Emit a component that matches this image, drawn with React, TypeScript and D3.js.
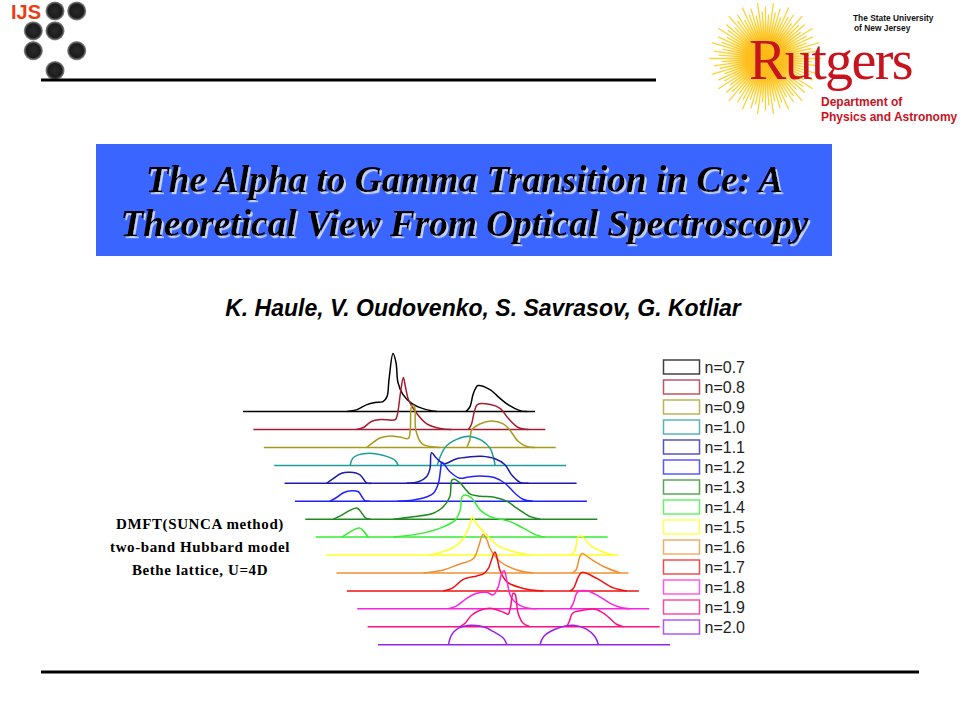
import React from 'react';
import * as d3 from 'd3';

type Pt = [number, number];

// spectra: [omega, A(omega)], arbitrary units
const n07: Pt[] = [[-4.2, 0], [-3.2, 0.2], [-2.2, 0.7], [-1.4, 0.9], [-0.6, 1.0], [-0.2, 1.5], [0.0, 3.2], [0.4, 5.8], [0.7, 4.9], [0.9, 2.9], [1.4, 1.7], [2.3, 0.8], [3.4, 0.3], [4.8, 0], [7.7, 0], [8.1, 0.5], [8.4, 1.7], [8.7, 2.4], [8.9, 2.6], [10.1, 2.2], [10.9, 1.5], [11.9, 0.7], [13.1, 0.1], [13.8, 0]];
const n08: Pt[] = [[-4.3, 0], [-3.6, 0.2], [-2.8, 0.8], [-1.9, 1.0], [-0.4, 1.0], [-0.2, 1.5], [0.1, 3.6], [0.4, 5.2], [0.6, 4.3], [0.9, 3.0], [1.6, 1.8], [2.7, 0.6], [4.1, 0.1], [5.2, 0], [6.9, 0], [7.2, 0.5], [7.5, 1.8], [7.8, 2.5], [9.1, 2.5], [10.1, 2.1], [10.9, 1.1], [11.9, 0.2], [12.9, 0]];
const n09: Pt[] = [[-4.3, 0], [-3.8, 0.4], [-3.0, 0.95], [-2.0, 1.15], [-1.0, 1.05], [-0.15, 0.9], [0.05, 1.75], [0.2, 4.15], [0.45, 4.15], [0.6, 1.75], [1.2, 0.4], [2.0, 0.1], [3.0, 0], [5.7, 0], [6.0, 0.75], [6.2, 1.75], [7.0, 2.35], [8.2, 2.65], [9.35, 2.35], [10.0, 1.75], [10.85, 0.6], [11.7, 0.1], [12.5, 0]];
const n10: Pt[] = [[-7.0, 0], [-6.75, 0.7], [-6.2, 1.05], [-5.35, 1.2], [-4.35, 1.15], [-3.35, 0.9], [-2.5, 0.5], [-2.2, 0], [1.7, 0], [2.5, 1.8], [3.65, 2.6], [5.0, 2.9], [6.15, 2.5], [7.0, 1.7], [7.3, 0.9], [7.5, 0]];
const n11: Pt[] = [[-10.4, 0], [-9.7, 0.5], [-8.9, 1.0], [-8.05, 1.1], [-7.05, 0.85], [-6.4, 0.05], [-5.9, 0], [-2.4, 0], [-1.2, 0.15], [-0.4, 0.65], [-0.05, 1.5], [0.1, 3.05], [0.6, 2.5], [1.3, 1.95], [1.6, 2.0], [2.6, 2.45], [3.95, 2.65], [5.1, 2.7], [6.45, 2.45], [7.45, 1.85], [8.1, 0.85], [8.95, 0.1], [9.8, 0]];
const n12: Pt[] = [[-11.1, 0], [-10.4, 0.4], [-9.75, 0.85], [-8.9, 1.05], [-8.25, 0.95], [-7.9, 0.45], [-7.6, 0.05], [-7.1, 0], [-4.4, 0], [-2.75, 0.13], [-1.4, 0.45], [-0.75, 0.8], [-0.25, 1.8], [-0.02, 3.3], [0.1, 3.9], [0.9, 2.95], [1.9, 2.3], [2.75, 2.43], [3.9, 2.53], [5.4, 2.35], [6.4, 1.8], [7.4, 0.8], [8.2, 0.2], [9.2, 0]];
const n13: Pt[] = [[-11.8, 0], [-10.95, 0.4], [-10.1, 0.9], [-9.4, 1.1], [-8.95, 0.6], [-8.55, 0.1], [-8.1, 0], [-5.8, 0], [-3.8, 0.25], [-1.8, 0.6], [-0.8, 1.25], [-0.15, 2.25], [0.05, 3.9], [0.3, 4.0], [0.9, 3.6], [1.5, 2.9], [1.9, 2.5], [2.9, 2.3], [4.3, 2.2], [5.55, 1.8], [6.55, 1.1], [7.9, 0.25], [8.9, 0]];
const n14: Pt[] = [[-12, 0], [-11.35, 0.4], [-10.65, 0.8], [-10.15, 0.9], [-9.85, 0.65], [-9.35, 0], [-6.85, 0], [-4.15, 0.35], [-2.15, 0.9], [-0.65, 1.7], [-0.15, 2.7], [0.05, 4.05], [0.35, 4.2], [1.0, 3.9], [1.85, 2.7], [2.85, 2.05], [4.85, 1.55], [6.15, 0.9], [7.5, 0.2], [8.3, 0]];
const n15: Pt[] = [[-4.2, 0], [-2.85, 0.35], [-1.5, 1.0], [-0.85, 1.7], [-0.35, 2.7], [0.05, 3.8], [0.3, 3.35], [1.45, 2.0], [2.5, 1.0], [4.1, 0.35], [5.8, 0], [9.8, 0], [10.25, 0.35], [10.6, 1.85], [10.8, 1.9], [11.05, 1.85], [11.8, 1.0], [13.1, 0.3], [14.1, 0]];
const n16: Pt[] = [[-5.9, 0], [-3.9, 0.3], [-2.55, 0.8], [-0.9, 1.45], [-0.4, 2.6], [0.05, 3.85], [0.45, 3.3], [0.75, 2.45], [1.75, 1.15], [3.45, 0.3], [5.1, 0], [8.95, 0], [9.35, 0.3], [9.75, 1.65], [10.0, 1.95], [10.75, 1.45], [12.1, 0.65], [13.8, 0]];
const n17: Pt[] = [[-4.95, 0], [-4.1, 0.25], [-2.95, 1.15], [-1.6, 1.5], [-0.95, 1.7], [-0.45, 2.25], [0.2, 3.9], [0.4, 3.4], [0.7, 2.1], [1.4, 0.9], [3.05, 0.25], [5.05, 0], [7.7, 0], [8.05, 0.25], [8.55, 1.4], [8.9, 1.85], [10.4, 1.25], [12.05, 0.3], [13.4, 0]];
const n18: Pt[] = [[-5.5, 0], [-4.65, 0.3], [-3.65, 1.05], [-2.65, 1.55], [-1.65, 1.65], [-1.0, 1.4], [-0.5, 2.2], [-0.15, 3.55], [0.1, 3.8], [0.35, 2.9], [0.85, 1.05], [2.0, 0.2], [3.35, 0], [6.7, 0], [7.0, 0.55], [7.45, 1.7], [8.35, 1.8], [9.5, 1.3], [10.7, 0.55], [11.85, 0.1], [12.7, 0]];
const n19: Pt[] = [[-5.35, 0], [-4.85, 0.35], [-4.2, 1.15], [-3.35, 1.65], [-2.35, 1.85], [-1.0, 1.45], [-0.55, 1.25], [-0.3, 2.0], [-0.05, 3.35], [0.15, 3.25], [0.45, 1.35], [0.95, 0.35], [1.65, 0], [5.3, 0], [5.55, 0.5], [5.9, 1.35], [6.65, 1.6], [8.15, 1.75], [9.15, 1.25], [10.3, 0.25], [11.0, 0]];
const n20: Pt[] = [[-7.55, 0], [-7.25, 0.95], [-6.55, 1.65], [-5.25, 1.95], [-3.9, 1.75], [-3.05, 1.3], [-2.05, 0.65], [-1.7, 0], [1.6, 0], [1.95, 0.8], [3.1, 1.55], [4.95, 1.95], [6.25, 1.55], [7.1, 0.8], [7.45, 0]];

const spectra = [n07, n08, n09, n10, n11, n12, n13, n14, n15, n16, n17, n18, n19, n20];
const labels = ['n=0.7', 'n=0.8', 'n=0.9', 'n=1.0', 'n=1.1', 'n=1.2', 'n=1.3', 'n=1.4', 'n=1.5', 'n=1.6', 'n=1.7', 'n=1.8', 'n=1.9', 'n=2.0'];
const colors = ['#000000', '#a51c30', '#a89a1e', '#1f9c9c', '#1c1ca8', '#2222ff', '#1f8a1f', '#33ee33', '#ffff22', '#f09030', '#ee1111', '#ff22e0', '#ff1080', '#9922ee'];

const titleLines = ['The Alpha to Gamma Transition in Ce: A', 'Theoretical View From Optical Spectroscopy'];
const methodLines = ['DMFT(SUNCA method)', 'two-band Hubbard model', 'Bethe lattice, U=4D'];
const dotCols = [1, 2, 0, 1, 0, 2, 1];
const dotRows = [0, 0, 1, 1, 2, 2, 3];
const rayLengths = [56, 47, 52, 44];

const sans = '"Liberation Sans", Arial, sans-serif';
const serif = '"Liberation Serif", "Times New Roman", serif';

// break a spectrum where it sits on zero, so the spline does not dip under the baseline
function lobes(points: Pt[]): Pt[][] {
  const out: Pt[][] = [[points[0]]];
  points.slice(1).forEach((p, i) => {
    if (p[1] === 0 && points[i][1] === 0) out.push([p]);
    else out[out.length - 1].push(p);
  });
  return out.filter(s => s.length > 1);
}

const App: React.FC = () => {
  const ids = d3.range(spectra.length);
  const x = d3.scaleLinear().domain([-14.6, 14.6]).range([-146, 146]);
  const y = d3.scaleLinear().domain([0, 6]).range([0, -60]);
  const shiftX = d3.scaleLinear().domain([0, 13]).range([389, 524]);
  const shiftY = d3.scaleLinear().domain([0, 13]).range([411.6, 644.7]);
  const legendY = d3.scalePoint<string>().domain(labels).range([367, 627]);
  const line = d3.line<Pt>().x(d => x(d[0])).y(d => y(d[1])).curve(d3.curveCatmullRom.alpha(0.5));

  const dotX = d3.scaleLinear().domain([0, 2]).range([33.3, 76.7]);
  const dotY = d3.scaleLinear().domain([0, 3]).range([11, 70.5]);
  const rayAngles = d3.range(0, 2 * Math.PI, Math.PI / 44);

  return (
    <svg width={960} height={720} style={{ position: 'absolute', left: 0, top: 0, background: '#fff' }}>
      <defs>
        <radialGradient id="dot">
          <stop offset="0%" stopColor="#2a2a2a" />
          <stop offset="72%" stopColor="#1c1c1c" />
          <stop offset="100%" stopColor="#999999" />
        </radialGradient>
        <radialGradient id="sun">
          <stop offset="0%" stopColor="#fdb913" />
          <stop offset="50%" stopColor="#fdbf20" />
          <stop offset="100%" stopColor="#fdd235" stopOpacity={0} />
        </radialGradient>
        <filter id="titleShadow" x="-5%" y="-20%" width="110%" height="140%">
          <feDropShadow dx={2} dy={2.2} stdDeviation={0.5} floodColor="#c4d0f6" />
        </filter>
      </defs>

      {/* header left */}
      <text x={11} y={18.5} fontFamily={sans} fontWeight="bold" fontSize={20} fill="#f03a10">IJS</text>
      {dotCols.map((c, i) => (
        <circle key={i} cx={dotX(c)} cy={dotY(dotRows[i])} r={9.6} fill="url(#dot)" />
      ))}
      <line x1={41} x2={656} y1={80} y2={80} stroke="#000" strokeWidth={3} />
      <line x1={41} x2={919} y1={672} y2={672} stroke="#000" strokeWidth={3} />

      {/* Rutgers mark */}
      <g transform="translate(765.5,58.5)">
        {rayAngles.map((a, i) => {
          const r = rayLengths[i % rayLengths.length];
          return <line key={i} x1={0} y1={0} x2={r * Math.cos(a)} y2={r * Math.sin(a)} stroke="#fdd235" strokeWidth={1.3} />;
        })}
        <circle r={40} fill="url(#sun)" />
      </g>
      <text x={749} y={79} fontFamily={serif} fontSize={56} letterSpacing={-1.6} fill="#c8141e">Rutgers</text>
      <text x={853} y={21} fontFamily={sans} fontWeight="bold" fontSize={8.4} fill="#111">The State University</text>
      <text x={854} y={31} fontFamily={sans} fontWeight="bold" fontSize={8.4} fill="#111">of New Jersey</text>
      <text x={821} y={106} fontFamily={sans} fontWeight="bold" fontSize={12} fill="#c8141e">Department of</text>
      <text x={821} y={121} fontFamily={sans} fontWeight="bold" fontSize={12} fill="#c8141e">Physics and Astronomy</text>

      {/* title */}
      <rect x={96} y={144} width={736} height={112} fill="#3a66ff" />
      {titleLines.map((t, i) => (
        <text key={t} x={464.5} y={191.5 + i * 44} fontFamily={serif} fontWeight="bold" fontStyle="italic" fontSize={37.3} textAnchor="middle" fill="#000" filter="url(#titleShadow)">{t}</text>
      ))}
      <text x={483} y={316} textAnchor="middle" fontFamily={sans} fontWeight="bold" fontStyle="italic" fontSize={23} fill="#000">
        K. Haule, V. Oudovenko, S. Savrasov, G. Kotliar
      </text>

      {methodLines.map((t, i) => (
        <text key={t} x={200} y={529 + i * 23} textAnchor="middle" fontFamily={serif} fontWeight="bold" fontSize={15} letterSpacing={0.6} fill="#000">{t}</text>
      ))}

      {/* spectra, stacked with a shift per filling */}
      {ids.map(i => (
        <g key={labels[i]} transform={`translate(${shiftX(i)},${shiftY(i)})`} fill="none" stroke={colors[i]} strokeWidth={1.5}>
          <path d={d3.line()([[x(-14.6), 0], [x(14.6), 0]]) ?? ''} />
          {lobes(spectra[i]).map((s, j) => <path key={j} d={line(s) ?? ''} />)}
        </g>
      ))}

      {/* legend */}
      {labels.map((l, i) => (
        <g key={l}>
          <rect x={663.5} y={legendY(l)! - 7} width={36} height={14} fill="none" stroke={colors[i]} strokeOpacity={0.75} strokeWidth={1.5} />
          <text x={704.5} y={legendY(l)! + 5.7} fontFamily={sans} fontSize={16} fill="#222">{l}</text>
        </g>
      ))}
    </svg>
  );
};

export default App;
